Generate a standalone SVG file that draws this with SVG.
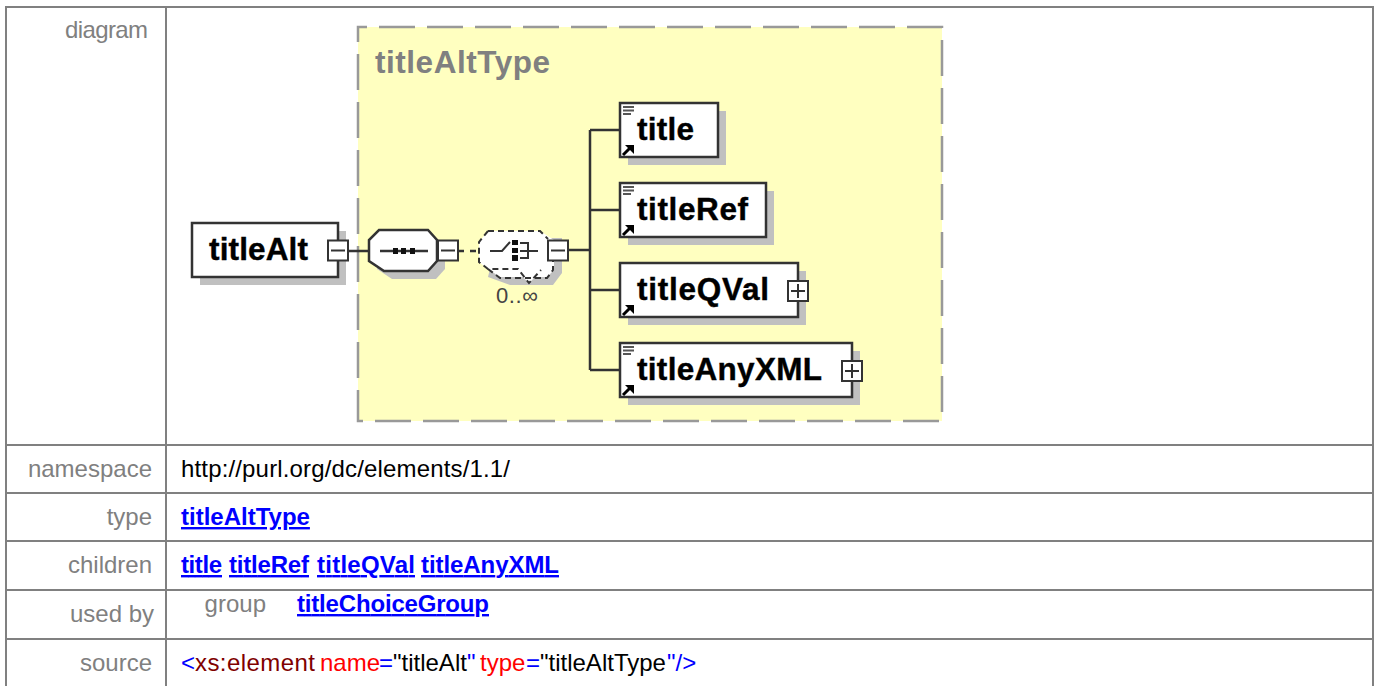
<svg xmlns="http://www.w3.org/2000/svg" width="1379" height="686" viewBox="0 0 1379 686">
<style>
.grid{stroke:#808080;stroke-width:2;fill:none}
.lbl{font:24px "Liberation Sans",Arial,sans-serif;fill:#808080;text-anchor:end}
.val{font:24px "Liberation Sans",Arial,sans-serif;fill:#000}
.lnk{font:bold 24px "Liberation Sans",Arial,sans-serif;fill:#00f;text-decoration:underline}
.nm{font:bold 31.5px "Liberation Sans",Arial,sans-serif;fill:#000;stroke:#000;stroke-width:.4}
.box{fill:#fff;stroke:#333;stroke-width:2.5}
.sh{fill:#c0c0c0}
.ln{stroke:#333;stroke-width:2.5;fill:none}
.thin{stroke:#333;stroke-width:2;fill:none}
.pm{fill:#fff;stroke:#333;stroke-width:2}
.dash{fill:none;stroke:#333;stroke-width:2;stroke-dasharray:6 4}
.b{fill:#00f}.r{fill:#f00}.d{fill:#800000}.k{fill:#000}
</style>
<defs>
<g id="doc"><path d="M1 4h11M1 7.500h11M1 11h8" stroke="#555" stroke-width="2.200" fill="none"/></g>
<g id="ref"><path d="M1 12L9 4" stroke="#000" stroke-width="3"/><path d="M3 2h9v9z" fill="#000"/></g>
<g id="minus"><rect class="pm" width="20" height="20"/><path class="thin" d="M3 10h14"/></g>
<g id="plus"><rect class="pm" width="20" height="20"/><path class="thin" d="M3 10h14M10 3v14"/></g>
</defs>
<rect width="1379" height="686" fill="#fff"/>
<g id="table">
<path class="grid" d="M6 686V7H1373V686M166 7V686M6 445H1373M6 493H1373M6 541H1373M6 590H1373M6 639H1373"/>
<text class="lbl" x="148" y="38" textLength="83">diagram</text>
<text class="lbl" x="152" y="477">namespace</text>
<text class="val" x="181" y="477" textLength="329">http://purl.org/dc/elements/1.1/</text>
<text class="lbl" x="152" y="525">type</text>
<text class="lnk" x="181" y="525">titleAltType</text>
<text class="lbl" x="152" y="573">children</text>
<text class="lnk" x="181" y="573" textLength="41">title</text>
<text class="lnk" x="229" y="573" textLength="80">titleRef</text>
<text class="lnk" x="317" y="573" textLength="98">titleQVal</text>
<text class="lnk" x="421" y="573" textLength="138">titleAnyXML</text>
<text class="lbl" x="154" y="622">used by</text>
<text class="lbl" x="266" y="612">group</text>
<text class="lnk" x="297" y="612" textLength="192">titleChoiceGroup</text>
<text class="lbl" x="152" y="671">source</text>
<text class="val b" x="181" y="671">&lt;</text>
<text class="val d" x="195" y="671" textLength="120">xs:element</text>
<text class="val" y="671"><tspan class="r" x="320">name</tspan><tspan class="b" x="379">=</tspan><tspan class="k" x="393">"titleAlt</tspan><tspan class="b" x="467">"</tspan><tspan class="r" x="480">type</tspan><tspan class="b" x="526">=</tspan><tspan class="k" x="540">"titleAltType</tspan><tspan class="b" x="667">"/&gt;</tspan></text>
</g>
<g id="titleAltType">
<rect x="358" y="27" width="584" height="394" fill="#ffffc0" stroke="#999" stroke-width="2.500" stroke-dasharray="36 12" stroke-dashoffset="27"/>
<text x="375" y="73" textLength="175" style="font:bold 31.5px 'Liberation Sans',Arial,sans-serif;fill:#808080">titleAltType</text>
</g>
<g id="connectors">
<path class="ln" d="M348 251H369M568 250H590M590 130V370M590 130H620M590 210H620M590 290H620M590 370H620"/>
<path class="ln" d="M458 251H480" stroke-dasharray="6 6"/>
</g>
<g id="node-titleAlt">
<rect class="sh" x="200" y="231" width="146" height="54"/>
<rect class="box" x="192" y="223" width="146" height="54"/>
<text class="nm" x="209" y="260" textLength="99">titleAlt</text>
<use href="#minus" x="328" y="240.500"/>
</g>
<g id="node-sequence">
<path class="sh" d="M392 238H436L445 248V269L436 279H392L377 269V248Z"/>
<path class="box" d="M379 230H428L437 240V261L428 271H384L369 261V240Z"/>
<path class="ln" d="M380 251H428"/><rect x="393" y="248" width="5" height="6" fill="#111"/><rect x="401" y="248" width="5" height="6" fill="#111"/><rect x="410" y="248" width="5" height="6" fill="#111"/>
<use href="#minus" x="438" y="240.500"/>
</g>
<g id="node-choice">
<path class="sh" d="M498 238H562V273L553 285H510L488 277Z"/>
<path d="M488 231H540L554 240V270L547 277H535L529 283L523 277H500L488 269L479 262V242Z" fill="#fff"/>
<path class="dash" d="M488 231H540L548 239M488 231L479 242V262L488 269H518L529 283L541 270M488 269L500 278H547L553 270V261"/>
<path class="thin" d="M490 251H502L510 242M520 243H528V258H520M520 251H538"/>
<rect x="512" y="240" width="6" height="5" fill="#111"/><rect x="512" y="248" width="6" height="5" fill="#111"/><rect x="512" y="255" width="6" height="6" fill="#111"/>
<use href="#minus" x="548" y="240.500"/>
<text x="496" y="303" textLength="42" style="font:22px 'Liberation Sans',Arial,sans-serif;fill:#444">0..∞</text>
</g>
<g id="node-title">
<rect class="sh" x="628" y="111" width="98" height="54"/>
<rect class="box" x="620" y="103" width="98" height="54"/>
<use href="#doc" x="622" y="103"/><use href="#ref" x="622" y="143"/>
<text class="nm" x="637" y="140" textLength="57">title</text>
</g>
<g id="node-titleRef">
<rect class="sh" x="628" y="191" width="146" height="54"/>
<rect class="box" x="620" y="183" width="146" height="54"/>
<use href="#doc" x="622" y="183"/><use href="#ref" x="622" y="223"/>
<text class="nm" x="637" y="220" textLength="111">titleRef</text>
</g>
<g id="node-titleQVal">
<rect class="sh" x="628" y="271" width="178" height="54"/>
<rect class="box" x="620" y="263" width="178" height="54"/>
<use href="#ref" x="622" y="303"/>
<text class="nm" x="637" y="300" textLength="132">titleQVal</text>
<use href="#plus" x="788" y="281"/>
</g>
<g id="node-titleAnyXML">
<rect class="sh" x="628" y="351" width="232" height="54"/>
<rect class="box" x="620" y="343" width="232" height="54"/>
<use href="#doc" x="622" y="343"/><use href="#ref" x="622" y="383"/>
<text class="nm" x="637" y="380" textLength="185">titleAnyXML</text>
<use href="#plus" x="842" y="361"/>
</g>
</svg>
